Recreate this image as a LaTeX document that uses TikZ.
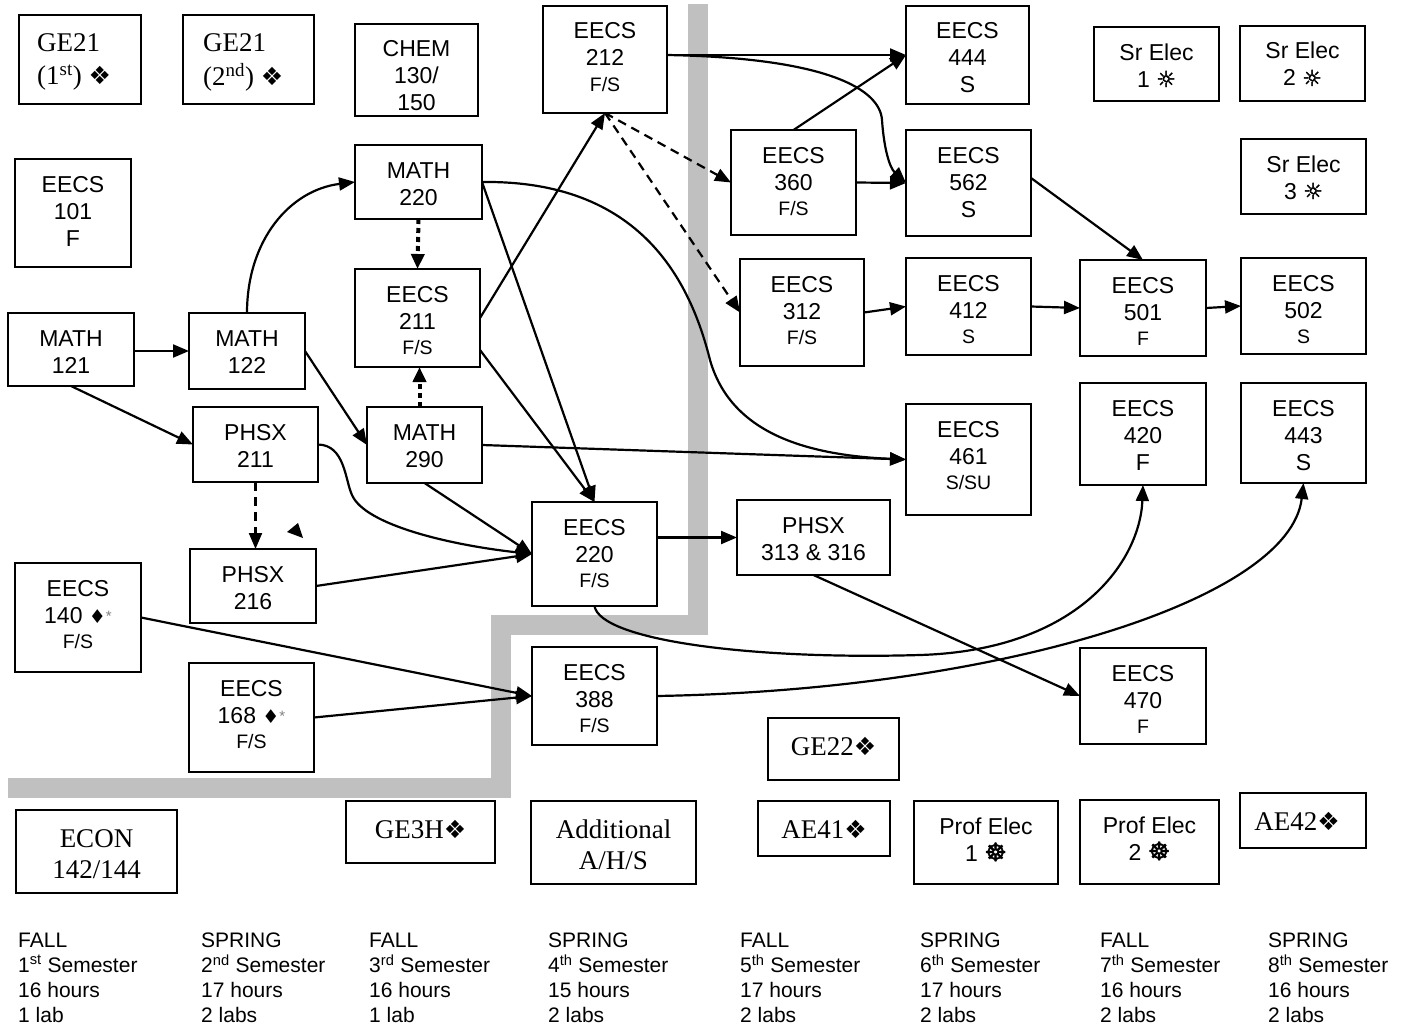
\documentclass[tikz,border=0pt]{standalone}
\usepackage{fontspec}
\setmainfont{Liberation Sans}
\newfontfamily\serif{Liberation Serif}
\newfontfamily\sym{DejaVu Sans}
\newfontfamily\symb[FakeBold=2]{DejaVu Sans}
\usetikzlibrary{arrows.meta,calc}
\definecolor{grayline}{RGB}{192,192,192}
\newcommand\sm{\fontsize{19.5}{23}\selectfont}
\newcommand\dia{{\sym\fontsize{25}{20}\selectfont ❖}}
\newcommand\sun{{\symb\fontsize{22}{20}\selectfont ☼}}
\newcommand\whl{{\symb\fontsize{25}{20}\selectfont ☸}}
\newcommand\dst{{\sym\fontsize{19}{20}\selectfont ♦}{\color{gray}\fontsize{15}{16}\selectfont\raisebox{2pt}{*}}}
\newcommand\course[7]{%
  \node[box, minimum width={(#4)-(#2)}, minimum height={(#5)-(#3)}, anchor=north west] (#1) at (#2,#3) {};
  \node[#6] (#1-t) at (#1.north) {\begin{tabular}[t]{@{}c@{}}#7\end{tabular}};
}
\tikzset{
  box/.style={draw, line width=1.8pt, rectangle, inner sep=0pt, outer sep=0pt},
  atext/.style={font=\fontsize{23}{27}\selectfont, anchor=base, inner sep=0pt, yshift=-33pt},
  ttext/.style={font=\serif\fontsize{27}{31}\selectfont, anchor=base, inner sep=0pt, yshift=-37pt},
  semtext/.style={font=\fontsize{21}{25}\selectfont, anchor=base west, inner sep=0pt},
  conn/.style={line width=2.2pt, -{Triangle[length=16pt,width=13pt]}},
  dconn/.style={conn, dash pattern=on 9pt off 6pt},
  tconn/.style={line width=4pt, dash pattern=on 5pt off 4pt, -{Triangle[length=15pt,width=13pt]}},
  wall/.style={line width=20pt, draw=grayline, line join=miter},
}
\begin{document}
\begin{tikzpicture}[x=1pt,y=-1pt]
\useasboundingbox (0,0) rectangle (1413,1025);
% dividing wall
\coordinate (w1) at (698,4);
\coordinate (w2) at (698,625);
\coordinate (w3) at (501,625);
\coordinate (w4) at (501,788);
\coordinate (w5) at (8,788);
\draw[wall] (w1) -- (w2) -- (w3) -- (w4) -- (w5);

% boxes
\node[box, minimum width=122, minimum height=89, anchor=north west] (ge21a) at (19,15) {};
\node[font=\serif\fontsize{27}{31}\selectfont, anchor=base west, inner sep=0pt] (ge21a-t) at ([xshift=18pt,yshift=-37pt]ge21a.north west) {\begin{tabular}[t]{@{}l@{}}GE21\\[2pt](1\textsuperscript{st}) \dia\end{tabular}};
\node[box, minimum width=131, minimum height=89, anchor=north west] (ge21b) at (183,15) {};
\node[font=\serif\fontsize{27}{31}\selectfont, anchor=base west, inner sep=0pt] (ge21b-t) at ([xshift=20pt,yshift=-37pt]ge21b.north west) {\begin{tabular}[t]{@{}l@{}}GE21\\[2pt](2\textsuperscript{nd}) \dia\end{tabular}};
\course{chem}{355}{24}{478}{116}{atext}{CHEM\\130/\\150}
\course{e212}{543}{6}{667}{113}{atext}{EECS\\212\\[-2pt]\sm F/S}
\course{e444}{906}{6}{1029}{104}{atext}{EECS\\444\\S}
\course{sr1}{1094}{27}{1219}{101}{atext}{Sr Elec\\1 \sun}
\course{sr2}{1240}{26}{1365}{101}{atext}{Sr Elec\\2 \sun}
\course{sr3}{1241}{139}{1366}{214}{atext}{Sr Elec\\3 \sun}
\course{e101}{15}{159}{131}{267}{atext}{EECS\\101\\F}
\course{m220}{355}{145}{482}{219}{atext}{MATH\\220}
\course{e360}{731}{130}{856}{235}{atext}{EECS\\360\\[-2pt]\sm F/S}
\course{e562}{906}{130}{1031}{236}{atext}{EECS\\562\\S}
\course{e211}{355}{269}{480}{367}{atext}{EECS\\211\\[-2pt]\sm F/S}
\course{e312}{740}{259}{864}{366}{atext}{EECS\\312\\[-2pt]\sm F/S}
\course{e412}{906}{258}{1031}{355}{atext}{EECS\\412\\[-2pt]\sm S}
\course{e501}{1080}{260}{1206}{356}{atext}{EECS\\501\\[-2pt]\sm F}
\course{e502}{1241}{258}{1366}{354}{atext}{EECS\\502\\[-2pt]\sm S}
\course{m121}{8}{313}{134}{386}{atext}{MATH\\121}
\course{m122}{189}{313}{305}{389}{atext}{MATH\\122}
\course{p211}{193}{407}{318}{482}{atext}{PHSX\\211}
\course{m290}{367}{407}{482}{483}{atext}{MATH\\290}
\course{e461}{906}{404}{1031}{515}{atext}{EECS\\461\\[-2pt]\sm S/SU}
\course{e420}{1080}{383}{1206}{485}{atext}{EECS\\420\\F}
\course{e443}{1241}{383}{1366}{483}{atext}{EECS\\443\\S}
\course{p216}{190}{549}{316}{623}{atext}{PHSX\\216}
\course{e220}{532}{502}{657}{606}{atext}{EECS\\220\\[-2pt]\sm F/S}
\course{p313}{737}{500}{890}{575}{atext}{PHSX\\313 \& 316}
\course{e140}{15}{563}{141}{672}{atext}{EECS\\140 \dst\\[-2pt]\sm F/S}
\course{e168}{189}{663}{314}{772}{atext}{EECS\\168 \dst\\[-2pt]\sm F/S}
\course{e388}{532}{647}{657}{745}{atext}{EECS\\388\\[-2pt]\sm F/S}
\course{e470}{1080}{648}{1206}{744}{atext}{EECS\\470\\[-2pt]\sm F}
\course{ge22}{768}{718}{899}{780}{ttext}{GE22\dia}
\course{econ}{16}{810}{177}{893}{ttext}{ECON\\142/144}
\course{ge3h}{346}{801}{495}{863}{ttext}{GE3H\dia}
\course{addl}{531}{801}{696}{884}{ttext}{Additional\\A/H/S}
\course{ae41}{758}{801}{890}{856}{ttext}{AE41\dia}
\course{pe1}{914}{801}{1058}{884}{atext}{Prof Elec\\1 \whl}
\course{pe2}{1080}{800}{1219}{884}{atext}{Prof Elec\\2 \whl}
\course{ae42}{1240}{793}{1366}{848}{ttext, xshift=-6pt}{AE42\dia}

% stray arrowhead
\fill (287,532) -- (298,523) -- (303,538) -- cycle;

% connectors
\draw[conn] (m121.east |- m122.west) -- (m122.west);
\draw[conn] (m121.south) -- (p211.west);
\draw[conn] (m122.north) .. controls (247,240) and (290,190) .. (m220.west);
\draw[conn] (m122.east) -- (m290.west);
\draw[dconn] (p211.south) -- (p211.south |- p216.north);
\draw[conn] (p211.east) .. controls (345,445) and (345,480) .. (352,495) .. controls (365,525) and (450,545) .. (e220.west);
\draw[conn] (p216.east) -- (e220.west);
\draw[conn] (m290.south) -- (e220.west);
\draw[conn] (m220.east) -- (e220.north);
\draw[conn] ([yshift=-32pt]e211.east) -- (e220.north);
\draw[conn] (e211.east) -- (e212.south);
\draw[tconn] (m220.south) -- (e211.north);
\draw[tconn] ([xshift=2pt]e211.south |- m290.north) -- ([xshift=2pt]e211.south);
\draw[conn] (m220.east) .. controls (640,180) and (690,280) .. (710,360) .. controls (730,430) and (800,455) .. (e461.west);
\draw[conn] (m290.east) -- (e461.west);
\draw[dconn] (e212.south) -- (e360.west);
\draw[dconn] (e212.south) -- (e312.west);
\draw[conn] (e212.east |- e444.west) -- (e444.west);
\draw[conn] (e212.east |- e444.west) .. controls (830,58) and (880,90) .. (882,120) .. controls (884,150) and (890,168) .. (e562.west);
\draw[conn] (e360.north) -- (e444.west);
\draw[conn] (e360.east) -- (e562.west);
\draw[conn] (e312.east) -- (e412.west);
\draw[conn] (e412.east) -- (e501.west);
\draw[conn] (e501.east) -- (e502.west);
\draw[conn] ([yshift=5pt]e562.east) -- (e501.north);
\draw[conn] (e220.east |- p313.west) -- (p313.west);
\draw[conn] (e220.south) .. controls (600,640) and (750,660) .. (920,655) .. controls (1080,650) and (1140,560) .. (e420.south);
\draw[conn] (p313.south) -- (e470.west);
\draw[conn] (e140.east) -- (e388.west);
\draw[conn] (e168.east) -- (e388.west);
\draw[conn] (e388.east) .. controls (1000,690) and (1290,600) .. (e443.south);

% semester labels
\node[semtext] (s1) at (18,947) {\begin{tabular}[t]{@{}l@{}}FALL\\1\textsuperscript{st} Semester\\16 hours\\1 lab\end{tabular}};
\node[semtext] (s2) at (201,947) {\begin{tabular}[t]{@{}l@{}}SPRING\\2\textsuperscript{nd} Semester\\17 hours\\2 labs\end{tabular}};
\node[semtext] (s3) at (369,947) {\begin{tabular}[t]{@{}l@{}}FALL\\3\textsuperscript{rd} Semester\\16 hours\\1 lab\end{tabular}};
\node[semtext] (s4) at (548,947) {\begin{tabular}[t]{@{}l@{}}SPRING\\4\textsuperscript{th} Semester\\15 hours\\2 labs\end{tabular}};
\node[semtext] (s5) at (740,947) {\begin{tabular}[t]{@{}l@{}}FALL\\5\textsuperscript{th} Semester\\17 hours\\2 labs\end{tabular}};
\node[semtext] (s6) at (920,947) {\begin{tabular}[t]{@{}l@{}}SPRING\\6\textsuperscript{th} Semester\\17 hours\\2 labs\end{tabular}};
\node[semtext] (s7) at (1100,947) {\begin{tabular}[t]{@{}l@{}}FALL\\7\textsuperscript{th} Semester\\16 hours\\2 labs\end{tabular}};
\node[semtext] (s8) at (1268,947) {\begin{tabular}[t]{@{}l@{}}SPRING\\8\textsuperscript{th} Semester\\16 hours\\2 labs\end{tabular}};
\end{tikzpicture}
\end{document}
